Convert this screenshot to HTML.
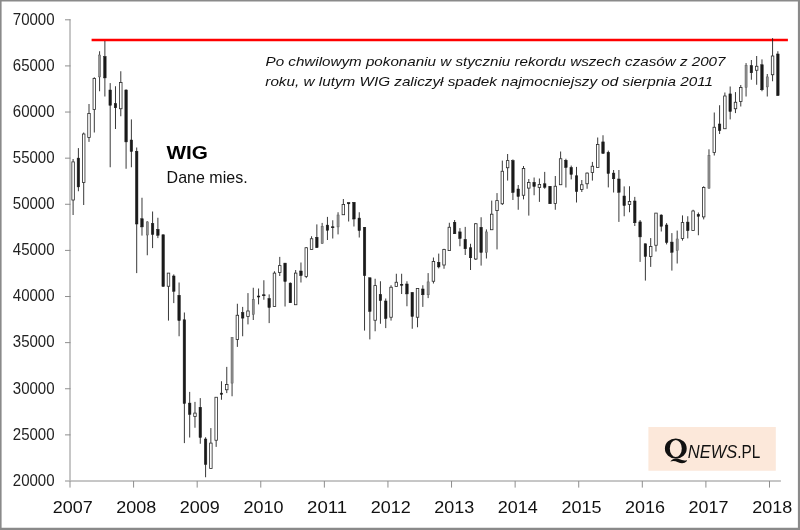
<!DOCTYPE html>
<html><head><meta charset="utf-8"><title>WIG</title>
<style>
html,body{margin:0;padding:0;background:#fff;}
body{width:800px;height:530px;overflow:hidden;}
svg{display:block;will-change:transform;font-family:"Liberation Sans",sans-serif;}
.w{stroke:#222;stroke-width:0.9;}
.k{fill:#1a1a1a;stroke:#1a1a1a;stroke-width:0.5;}
.u{fill:#fff;stroke:#2a2a2a;stroke-width:0.8;}
.g{fill:#909090;stroke:#5a5a5a;stroke-width:0.5;}
.ax{stroke:#8e8e8e;stroke-width:1;fill:none;}
  .yl{font-size:16px;fill:#222;}
.xl{font-size:16.2px;fill:#111;}
.an{font-size:13.5px;font-style:italic;fill:#111;}
</style></head><body>
<svg width="800" height="530" viewBox="0 0 800 530">
<rect x="0" y="0" width="800" height="530" fill="#fff"/>
<path d="M0 0H800V530H0Z M1.6 1.6V527.8H797.9V1.6Z" fill="#8a8a8a" fill-rule="evenodd"/>
<line x1="70" y1="19.3" x2="70" y2="480.5" class="ax"/>
<line x1="65" y1="481" x2="780.9" y2="481" class="ax"/>
<line x1="65" y1="19.80" x2="70.5" y2="19.80" class="ax"/>
<text x="54.6" y="24.55" class="yl" text-anchor="end" textLength="41.8" lengthAdjust="spacingAndGlyphs">70000</text>
<line x1="65" y1="65.92" x2="70.5" y2="65.92" class="ax"/>
<text x="54.6" y="70.67" class="yl" text-anchor="end" textLength="41.8" lengthAdjust="spacingAndGlyphs">65000</text>
<line x1="65" y1="112.04" x2="70.5" y2="112.04" class="ax"/>
<text x="54.6" y="116.79" class="yl" text-anchor="end" textLength="41.8" lengthAdjust="spacingAndGlyphs">60000</text>
<line x1="65" y1="158.16" x2="70.5" y2="158.16" class="ax"/>
<text x="54.6" y="162.91" class="yl" text-anchor="end" textLength="41.8" lengthAdjust="spacingAndGlyphs">55000</text>
<line x1="65" y1="204.28" x2="70.5" y2="204.28" class="ax"/>
<text x="54.6" y="209.03" class="yl" text-anchor="end" textLength="41.8" lengthAdjust="spacingAndGlyphs">50000</text>
<line x1="65" y1="250.40" x2="70.5" y2="250.40" class="ax"/>
<text x="54.6" y="255.15" class="yl" text-anchor="end" textLength="41.8" lengthAdjust="spacingAndGlyphs">45000</text>
<line x1="65" y1="296.52" x2="70.5" y2="296.52" class="ax"/>
<text x="54.6" y="301.27" class="yl" text-anchor="end" textLength="41.8" lengthAdjust="spacingAndGlyphs">40000</text>
<line x1="65" y1="342.64" x2="70.5" y2="342.64" class="ax"/>
<text x="54.6" y="347.39" class="yl" text-anchor="end" textLength="41.8" lengthAdjust="spacingAndGlyphs">35000</text>
<line x1="65" y1="388.76" x2="70.5" y2="388.76" class="ax"/>
<text x="54.6" y="393.51" class="yl" text-anchor="end" textLength="41.8" lengthAdjust="spacingAndGlyphs">30000</text>
<line x1="65" y1="434.88" x2="70.5" y2="434.88" class="ax"/>
<text x="54.6" y="439.63" class="yl" text-anchor="end" textLength="41.8" lengthAdjust="spacingAndGlyphs">25000</text>
<text x="54.6" y="485.75" class="yl" text-anchor="end" textLength="41.8" lengthAdjust="spacingAndGlyphs">20000</text>
<line x1="70.00" y1="481" x2="70.00" y2="487.6" class="ax"/>
<text x="72.70" y="512.7" class="xl" text-anchor="middle" textLength="40" lengthAdjust="spacingAndGlyphs">2007</text>
<line x1="133.59" y1="481" x2="133.59" y2="487.6" class="ax"/>
<text x="136.29" y="512.7" class="xl" text-anchor="middle" textLength="40" lengthAdjust="spacingAndGlyphs">2008</text>
<line x1="197.18" y1="481" x2="197.18" y2="487.6" class="ax"/>
<text x="199.88" y="512.7" class="xl" text-anchor="middle" textLength="40" lengthAdjust="spacingAndGlyphs">2009</text>
<line x1="260.77" y1="481" x2="260.77" y2="487.6" class="ax"/>
<text x="263.47" y="512.7" class="xl" text-anchor="middle" textLength="40" lengthAdjust="spacingAndGlyphs">2010</text>
<line x1="324.36" y1="481" x2="324.36" y2="487.6" class="ax"/>
<text x="327.06" y="512.7" class="xl" text-anchor="middle" textLength="40" lengthAdjust="spacingAndGlyphs">2011</text>
<line x1="387.95" y1="481" x2="387.95" y2="487.6" class="ax"/>
<text x="390.65" y="512.7" class="xl" text-anchor="middle" textLength="40" lengthAdjust="spacingAndGlyphs">2012</text>
<line x1="451.54" y1="481" x2="451.54" y2="487.6" class="ax"/>
<text x="454.24" y="512.7" class="xl" text-anchor="middle" textLength="40" lengthAdjust="spacingAndGlyphs">2013</text>
<line x1="515.13" y1="481" x2="515.13" y2="487.6" class="ax"/>
<text x="517.83" y="512.7" class="xl" text-anchor="middle" textLength="40" lengthAdjust="spacingAndGlyphs">2014</text>
<line x1="578.72" y1="481" x2="578.72" y2="487.6" class="ax"/>
<text x="581.42" y="512.7" class="xl" text-anchor="middle" textLength="40" lengthAdjust="spacingAndGlyphs">2015</text>
<line x1="642.31" y1="481" x2="642.31" y2="487.6" class="ax"/>
<text x="645.01" y="512.7" class="xl" text-anchor="middle" textLength="40" lengthAdjust="spacingAndGlyphs">2016</text>
<line x1="705.90" y1="481" x2="705.90" y2="487.6" class="ax"/>
<text x="708.60" y="512.7" class="xl" text-anchor="middle" textLength="40" lengthAdjust="spacingAndGlyphs">2017</text>
<line x1="769.49" y1="481" x2="769.49" y2="487.6" class="ax"/>
<text x="772.19" y="512.7" class="xl" text-anchor="middle" textLength="40" lengthAdjust="spacingAndGlyphs">2018</text>
<rect x="648.4" y="427" width="127.4" height="43.75" fill="#fce8da"/>
<path fill="#111" fill-rule="evenodd" d="M664.9 448.5a10.9 10.1 0 1 0 21.8 0a10.9 10.1 0 1 0 -21.8 0Z M669.8 448.5a6 8.6 0 1 1 12 0a6 8.6 0 1 1 -12 0Z"/>
<path fill="#111" d="M670.3 461.5C672.3 458.8 675.8 457.8 679 459.0C682 460.1 684.6 461.2 686.9 459.9L686.7 461.3C684.6 463.6 681 463.6 678 462.2C675.4 461.0 673 460.5 670.3 461.5Z"/>
<text x="687.8" y="458.0" style="font-size:18px;font-style:italic;fill:#111" textLength="49.3" lengthAdjust="spacingAndGlyphs">NEWS</text>
<text x="737.3" y="458.0" style="font-size:18px;fill:#111" textLength="23" lengthAdjust="spacingAndGlyphs">.PL</text>
<line x1="91.6" y1="40" x2="787.9" y2="40" stroke="#f00" stroke-width="2.5"/>
<line x1="73.10" y1="159.00" x2="73.10" y2="215.00" class="w"/>
<rect x="71.85" y="161.90" width="2.5" height="38.10" class="u"/>
<line x1="78.40" y1="148.10" x2="78.40" y2="191.25" class="w"/>
<rect x="77.15" y="158.10" width="2.5" height="28.80" class="k"/>
<line x1="83.70" y1="132.50" x2="83.70" y2="205.00" class="w"/>
<rect x="82.45" y="134.00" width="2.5" height="48.50" class="u"/>
<line x1="89.00" y1="104.00" x2="89.00" y2="141.90" class="w"/>
<rect x="87.75" y="113.50" width="2.5" height="24.00" class="u"/>
<line x1="94.30" y1="77.25" x2="94.30" y2="132.50" class="w"/>
<rect x="93.05" y="78.50" width="2.5" height="30.90" class="u"/>
<line x1="99.59" y1="51.25" x2="99.59" y2="91.25" class="w"/>
<rect x="98.55" y="55.00" width="2.1" height="21.90" class="g"/>
<line x1="104.89" y1="41.00" x2="104.89" y2="96.50" class="w"/>
<rect x="103.64" y="56.50" width="2.5" height="21.40" class="k"/>
<line x1="110.19" y1="83.10" x2="110.19" y2="167.25" class="w"/>
<rect x="108.94" y="90.00" width="2.5" height="15.25" class="k"/>
<line x1="115.49" y1="86.25" x2="115.49" y2="129.00" class="w"/>
<rect x="114.24" y="103.50" width="2.5" height="4.25" class="k"/>
<line x1="120.79" y1="71.25" x2="120.79" y2="116.25" class="w"/>
<rect x="119.54" y="82.50" width="2.5" height="26.25" class="u"/>
<line x1="126.09" y1="89.40" x2="126.09" y2="168.75" class="w"/>
<rect x="124.84" y="90.00" width="2.5" height="51.90" class="k"/>
<line x1="131.39" y1="119.40" x2="131.39" y2="167.25" class="w"/>
<rect x="130.14" y="140.00" width="2.5" height="11.50" class="k"/>
<line x1="136.69" y1="147.50" x2="136.69" y2="273.10" class="w"/>
<rect x="135.44" y="151.25" width="2.5" height="72.75" class="k"/>
<line x1="141.99" y1="197.75" x2="141.99" y2="235.60" class="w"/>
<rect x="140.74" y="218.75" width="2.5" height="8.15" class="k"/>
<line x1="147.29" y1="221.25" x2="147.29" y2="255.25" class="w"/>
<rect x="146.24" y="221.90" width="2.1" height="13.10" class="g"/>
<line x1="152.58" y1="211.50" x2="152.58" y2="248.10" class="w"/>
<rect x="151.33" y="223.50" width="2.5" height="10.90" class="k"/>
<line x1="157.88" y1="217.75" x2="157.88" y2="238.10" class="w"/>
<rect x="156.63" y="229.40" width="2.5" height="5.85" class="k"/>
<line x1="163.18" y1="234.75" x2="163.18" y2="286.50" class="w"/>
<rect x="161.93" y="234.75" width="2.5" height="51.75" class="k"/>
<line x1="168.48" y1="273.10" x2="168.48" y2="320.60" class="w"/>
<rect x="167.23" y="273.10" width="2.5" height="13.15" class="u"/>
<line x1="173.78" y1="274.40" x2="173.78" y2="303.10" class="w"/>
<rect x="172.53" y="276.00" width="2.5" height="15.25" class="k"/>
<line x1="179.08" y1="282.50" x2="179.08" y2="336.25" class="w"/>
<rect x="177.83" y="295.25" width="2.5" height="25.35" class="k"/>
<line x1="184.38" y1="312.50" x2="184.38" y2="443.10" class="w"/>
<rect x="183.13" y="319.75" width="2.5" height="83.75" class="k"/>
<line x1="189.68" y1="391.90" x2="189.68" y2="437.50" class="w"/>
<rect x="188.43" y="403.10" width="2.5" height="11.30" class="k"/>
<line x1="194.98" y1="401.90" x2="194.98" y2="427.75" class="w"/>
<rect x="193.73" y="413.10" width="2.5" height="3.40" class="u"/>
<line x1="200.28" y1="398.10" x2="200.28" y2="443.75" class="w"/>
<rect x="199.03" y="407.25" width="2.5" height="30.25" class="k"/>
<line x1="205.58" y1="437.25" x2="205.58" y2="477.25" class="w"/>
<rect x="204.33" y="439.00" width="2.5" height="25.40" class="k"/>
<line x1="210.87" y1="428.10" x2="210.87" y2="468.50" class="w"/>
<rect x="209.62" y="443.10" width="2.5" height="25.40" class="u"/>
<line x1="216.17" y1="397.25" x2="216.17" y2="446.90" class="w"/>
<rect x="214.92" y="397.25" width="2.5" height="43.00" class="u"/>
<line x1="221.47" y1="381.25" x2="221.47" y2="399.75" class="w"/>
<rect x="220.22" y="393.10" width="2.5" height="1.30" class="k"/>
<line x1="226.77" y1="366.90" x2="226.77" y2="393.10" class="w"/>
<rect x="225.52" y="384.40" width="2.5" height="5.35" class="u"/>
<line x1="232.07" y1="337.50" x2="232.07" y2="396.25" class="w"/>
<rect x="231.02" y="337.50" width="2.1" height="45.60" class="g"/>
<line x1="237.37" y1="303.75" x2="237.37" y2="346.90" class="w"/>
<rect x="236.12" y="315.25" width="2.5" height="24.15" class="u"/>
<line x1="242.67" y1="306.90" x2="242.67" y2="336.25" class="w"/>
<rect x="241.42" y="312.50" width="2.5" height="5.60" class="k"/>
<line x1="247.97" y1="293.10" x2="247.97" y2="324.40" class="w"/>
<rect x="246.72" y="311.00" width="2.5" height="5.50" class="u"/>
<line x1="253.27" y1="287.75" x2="253.27" y2="320.00" class="w"/>
<rect x="252.22" y="299.40" width="2.1" height="15.00" class="g"/>
<line x1="258.56" y1="288.50" x2="258.56" y2="304.40" class="w"/>
<rect x="257.31" y="296.00" width="2.5" height="1.00" class="k"/>
<line x1="263.86" y1="280.25" x2="263.86" y2="299.75" class="w"/>
<rect x="262.61" y="294.75" width="2.5" height="1.00" class="k"/>
<line x1="269.16" y1="294.40" x2="269.16" y2="323.10" class="w"/>
<rect x="267.91" y="298.50" width="2.5" height="9.00" class="k"/>
<line x1="274.46" y1="271.25" x2="274.46" y2="306.50" class="w"/>
<rect x="273.21" y="273.10" width="2.5" height="33.40" class="u"/>
<line x1="279.76" y1="256.90" x2="279.76" y2="276.00" class="w"/>
<rect x="278.51" y="265.60" width="2.5" height="6.90" class="u"/>
<line x1="285.06" y1="263.10" x2="285.06" y2="306.50" class="w"/>
<rect x="283.81" y="263.10" width="2.5" height="18.40" class="k"/>
<line x1="290.36" y1="282.50" x2="290.36" y2="302.75" class="w"/>
<rect x="289.11" y="283.10" width="2.5" height="19.65" class="k"/>
<line x1="295.66" y1="270.00" x2="295.66" y2="304.75" class="w"/>
<rect x="294.41" y="273.10" width="2.5" height="31.65" class="u"/>
<line x1="300.96" y1="262.50" x2="300.96" y2="282.50" class="w"/>
<rect x="299.71" y="271.00" width="2.5" height="4.60" class="k"/>
<line x1="306.26" y1="247.00" x2="306.26" y2="278.10" class="w"/>
<rect x="305.01" y="247.75" width="2.5" height="28.75" class="u"/>
<line x1="311.56" y1="236.25" x2="311.56" y2="249.40" class="w"/>
<rect x="310.31" y="238.75" width="2.5" height="10.65" class="u"/>
<line x1="316.85" y1="224.40" x2="316.85" y2="248.00" class="w"/>
<rect x="315.60" y="237.25" width="2.5" height="10.35" class="k"/>
<line x1="322.15" y1="222.90" x2="322.15" y2="243.75" class="w"/>
<rect x="321.10" y="226.40" width="2.1" height="17.20" class="g"/>
<line x1="327.45" y1="216.90" x2="327.45" y2="240.00" class="w"/>
<rect x="326.20" y="225.10" width="2.5" height="5.15" class="k"/>
<line x1="332.75" y1="220.25" x2="332.75" y2="238.50" class="w"/>
<rect x="331.50" y="226.75" width="2.5" height="1.00" class="k"/>
<line x1="338.05" y1="212.25" x2="338.05" y2="234.40" class="w"/>
<rect x="337.00" y="215.00" width="2.1" height="11.90" class="g"/>
<line x1="343.35" y1="199.00" x2="343.35" y2="214.75" class="w"/>
<rect x="342.10" y="204.40" width="2.5" height="10.35" class="u"/>
<line x1="348.65" y1="202.50" x2="348.65" y2="221.50" class="w"/>
<rect x="347.40" y="202.60" width="2.5" height="1.20" class="k"/>
<line x1="353.95" y1="202.25" x2="353.95" y2="226.50" class="w"/>
<rect x="352.70" y="202.25" width="2.5" height="16.75" class="k"/>
<line x1="359.25" y1="212.25" x2="359.25" y2="237.50" class="w"/>
<rect x="358.00" y="218.10" width="2.5" height="12.50" class="k"/>
<line x1="364.54" y1="227.25" x2="364.54" y2="330.60" class="w"/>
<rect x="363.29" y="227.25" width="2.5" height="48.35" class="k"/>
<line x1="369.84" y1="277.75" x2="369.84" y2="339.40" class="w"/>
<rect x="368.59" y="277.75" width="2.5" height="33.65" class="k"/>
<line x1="375.14" y1="278.75" x2="375.14" y2="331.25" class="w"/>
<rect x="373.89" y="285.60" width="2.5" height="34.65" class="u"/>
<line x1="380.44" y1="281.25" x2="380.44" y2="323.75" class="w"/>
<rect x="379.19" y="294.40" width="2.5" height="6.20" class="k"/>
<line x1="385.74" y1="298.50" x2="385.74" y2="328.10" class="w"/>
<rect x="384.49" y="301.00" width="2.5" height="17.50" class="k"/>
<line x1="391.04" y1="285.25" x2="391.04" y2="320.60" class="w"/>
<rect x="389.79" y="287.25" width="2.5" height="30.00" class="u"/>
<line x1="396.34" y1="273.75" x2="396.34" y2="286.50" class="w"/>
<rect x="395.09" y="282.25" width="2.5" height="4.25" class="u"/>
<line x1="401.64" y1="273.75" x2="401.64" y2="294.00" class="w"/>
<rect x="400.39" y="284.25" width="2.5" height="1.00" class="k"/>
<line x1="406.94" y1="281.25" x2="406.94" y2="306.25" class="w"/>
<rect x="405.69" y="284.00" width="2.5" height="9.90" class="k"/>
<line x1="412.24" y1="292.25" x2="412.24" y2="328.75" class="w"/>
<rect x="410.99" y="292.40" width="2.5" height="24.10" class="k"/>
<line x1="417.53" y1="288.50" x2="417.53" y2="327.25" class="w"/>
<rect x="416.28" y="288.50" width="2.5" height="28.75" class="u"/>
<line x1="422.83" y1="285.25" x2="422.83" y2="306.90" class="w"/>
<rect x="421.58" y="289.00" width="2.5" height="5.75" class="k"/>
<line x1="428.13" y1="273.10" x2="428.13" y2="298.10" class="w"/>
<rect x="427.08" y="281.90" width="2.1" height="12.85" class="g"/>
<line x1="433.43" y1="257.50" x2="433.43" y2="283.50" class="w"/>
<rect x="432.18" y="261.50" width="2.5" height="19.75" class="u"/>
<line x1="438.73" y1="253.60" x2="438.73" y2="268.40" class="w"/>
<rect x="437.48" y="262.25" width="2.5" height="4.65" class="k"/>
<line x1="444.03" y1="248.75" x2="444.03" y2="268.75" class="w"/>
<rect x="442.78" y="249.40" width="2.5" height="15.60" class="u"/>
<line x1="449.33" y1="222.75" x2="449.33" y2="250.60" class="w"/>
<rect x="448.08" y="227.25" width="2.5" height="23.35" class="u"/>
<line x1="454.63" y1="220.00" x2="454.63" y2="233.75" class="w"/>
<rect x="453.38" y="222.25" width="2.5" height="11.50" class="k"/>
<line x1="459.93" y1="228.10" x2="459.93" y2="246.25" class="w"/>
<rect x="458.68" y="231.90" width="2.5" height="6.60" class="k"/>
<line x1="465.23" y1="226.90" x2="465.23" y2="255.00" class="w"/>
<rect x="463.98" y="239.40" width="2.5" height="9.35" class="k"/>
<line x1="470.52" y1="243.75" x2="470.52" y2="270.00" class="w"/>
<rect x="469.27" y="247.75" width="2.5" height="10.00" class="k"/>
<line x1="475.82" y1="223.00" x2="475.82" y2="260.00" class="w"/>
<rect x="474.57" y="223.75" width="2.5" height="35.25" class="u"/>
<line x1="481.12" y1="217.25" x2="481.12" y2="265.60" class="w"/>
<rect x="479.87" y="227.25" width="2.5" height="25.25" class="k"/>
<line x1="486.42" y1="229.40" x2="486.42" y2="258.50" class="w"/>
<rect x="485.37" y="231.90" width="2.1" height="20.35" class="g"/>
<line x1="491.72" y1="200.60" x2="491.72" y2="229.75" class="w"/>
<rect x="490.47" y="214.20" width="2.5" height="15.55" class="u"/>
<line x1="497.02" y1="193.10" x2="497.02" y2="249.40" class="w"/>
<rect x="495.77" y="200.60" width="2.5" height="10.00" class="u"/>
<line x1="502.32" y1="160.60" x2="502.32" y2="205.00" class="w"/>
<rect x="501.07" y="171.25" width="2.5" height="32.50" class="u"/>
<line x1="507.62" y1="154.00" x2="507.62" y2="180.60" class="w"/>
<rect x="506.37" y="160.60" width="2.5" height="7.15" class="u"/>
<line x1="512.92" y1="159.40" x2="512.92" y2="200.00" class="w"/>
<rect x="511.67" y="160.60" width="2.5" height="31.90" class="k"/>
<line x1="518.22" y1="185.00" x2="518.22" y2="209.75" class="w"/>
<rect x="516.97" y="189.00" width="2.5" height="7.50" class="k"/>
<line x1="523.51" y1="166.00" x2="523.51" y2="199.40" class="w"/>
<rect x="522.26" y="168.50" width="2.5" height="26.75" class="u"/>
<line x1="528.81" y1="179.00" x2="528.81" y2="215.60" class="w"/>
<rect x="527.56" y="182.50" width="2.5" height="5.60" class="u"/>
<line x1="534.11" y1="177.50" x2="534.11" y2="195.25" class="w"/>
<rect x="532.86" y="182.25" width="2.5" height="4.25" class="k"/>
<line x1="539.41" y1="178.50" x2="539.41" y2="201.90" class="w"/>
<rect x="538.16" y="184.40" width="2.5" height="3.10" class="u"/>
<line x1="544.71" y1="171.90" x2="544.71" y2="188.75" class="w"/>
<rect x="543.46" y="183.75" width="2.5" height="3.50" class="k"/>
<line x1="550.01" y1="186.00" x2="550.01" y2="204.00" class="w"/>
<rect x="548.76" y="186.25" width="2.5" height="17.50" class="k"/>
<line x1="555.31" y1="176.00" x2="555.31" y2="209.75" class="w"/>
<rect x="554.06" y="186.25" width="2.5" height="17.25" class="u"/>
<line x1="560.61" y1="151.50" x2="560.61" y2="184.75" class="w"/>
<rect x="559.36" y="158.75" width="2.5" height="26.00" class="u"/>
<line x1="565.91" y1="158.75" x2="565.91" y2="187.50" class="w"/>
<rect x="564.66" y="160.25" width="2.5" height="7.25" class="k"/>
<line x1="571.21" y1="165.60" x2="571.21" y2="179.40" class="w"/>
<rect x="569.96" y="167.50" width="2.5" height="6.90" class="k"/>
<line x1="576.50" y1="166.90" x2="576.50" y2="202.50" class="w"/>
<rect x="575.25" y="175.80" width="2.5" height="15.70" class="k"/>
<line x1="581.80" y1="180.00" x2="581.80" y2="192.00" class="w"/>
<rect x="580.55" y="184.75" width="2.5" height="4.65" class="u"/>
<line x1="587.10" y1="172.50" x2="587.10" y2="188.75" class="w"/>
<rect x="585.85" y="173.10" width="2.5" height="10.65" class="u"/>
<line x1="592.40" y1="161.90" x2="592.40" y2="180.60" class="w"/>
<rect x="591.15" y="166.25" width="2.5" height="6.25" class="u"/>
<line x1="597.70" y1="137.50" x2="597.70" y2="167.50" class="w"/>
<rect x="596.45" y="144.40" width="2.5" height="23.10" class="u"/>
<line x1="603.00" y1="135.25" x2="603.00" y2="153.50" class="w"/>
<rect x="601.75" y="141.90" width="2.5" height="11.60" class="k"/>
<line x1="608.30" y1="150.60" x2="608.30" y2="187.40" class="w"/>
<rect x="607.05" y="152.25" width="2.5" height="21.25" class="k"/>
<line x1="613.60" y1="170.00" x2="613.60" y2="192.50" class="w"/>
<rect x="612.35" y="173.10" width="2.5" height="5.65" class="k"/>
<line x1="618.90" y1="170.00" x2="618.90" y2="221.90" class="w"/>
<rect x="617.65" y="179.00" width="2.5" height="13.25" class="k"/>
<line x1="624.20" y1="186.40" x2="624.20" y2="216.25" class="w"/>
<rect x="622.95" y="196.00" width="2.5" height="9.60" class="k"/>
<line x1="629.50" y1="186.25" x2="629.50" y2="212.25" class="w"/>
<rect x="628.25" y="201.50" width="2.5" height="2.90" class="u"/>
<line x1="634.79" y1="196.90" x2="634.79" y2="226.00" class="w"/>
<rect x="633.54" y="201.00" width="2.5" height="21.75" class="k"/>
<line x1="640.09" y1="220.00" x2="640.09" y2="261.90" class="w"/>
<rect x="638.84" y="221.90" width="2.5" height="15.00" class="k"/>
<line x1="645.39" y1="243.75" x2="645.39" y2="280.60" class="w"/>
<rect x="644.14" y="243.75" width="2.5" height="12.75" class="k"/>
<line x1="650.69" y1="238.10" x2="650.69" y2="266.90" class="w"/>
<rect x="649.44" y="246.50" width="2.5" height="10.00" class="u"/>
<line x1="655.99" y1="213.10" x2="655.99" y2="251.50" class="w"/>
<rect x="654.74" y="213.10" width="2.5" height="32.15" class="u"/>
<line x1="661.29" y1="214.40" x2="661.29" y2="231.50" class="w"/>
<rect x="660.04" y="215.00" width="2.5" height="11.25" class="k"/>
<line x1="666.59" y1="223.10" x2="666.59" y2="244.40" class="w"/>
<rect x="665.34" y="225.00" width="2.5" height="17.40" class="k"/>
<line x1="671.89" y1="233.10" x2="671.89" y2="270.60" class="w"/>
<rect x="670.64" y="242.10" width="2.5" height="10.15" class="k"/>
<line x1="677.19" y1="230.60" x2="677.19" y2="263.50" class="w"/>
<rect x="676.14" y="239.00" width="2.1" height="11.60" class="g"/>
<line x1="682.49" y1="215.40" x2="682.49" y2="240.60" class="w"/>
<rect x="681.24" y="222.60" width="2.5" height="15.90" class="u"/>
<line x1="687.78" y1="216.25" x2="687.78" y2="238.40" class="w"/>
<rect x="686.53" y="222.10" width="2.5" height="8.60" class="k"/>
<line x1="693.08" y1="209.75" x2="693.08" y2="230.60" class="w"/>
<rect x="691.83" y="211.00" width="2.5" height="19.40" class="u"/>
<line x1="698.38" y1="212.50" x2="698.38" y2="235.25" class="w"/>
<rect x="697.13" y="214.40" width="2.5" height="1.85" class="k"/>
<line x1="703.68" y1="186.25" x2="703.68" y2="219.40" class="w"/>
<rect x="702.43" y="187.50" width="2.5" height="29.40" class="u"/>
<line x1="708.98" y1="149.30" x2="708.98" y2="188.50" class="w"/>
<rect x="707.93" y="155.50" width="2.1" height="32.70" class="g"/>
<line x1="714.28" y1="112.50" x2="714.28" y2="155.50" class="w"/>
<rect x="713.03" y="127.25" width="2.5" height="25.25" class="u"/>
<line x1="719.58" y1="105.25" x2="719.58" y2="134.00" class="w"/>
<rect x="718.33" y="124.00" width="2.5" height="6.60" class="k"/>
<line x1="724.88" y1="92.50" x2="724.88" y2="128.75" class="w"/>
<rect x="723.63" y="96.00" width="2.5" height="32.75" class="u"/>
<line x1="730.18" y1="86.50" x2="730.18" y2="119.40" class="w"/>
<rect x="728.93" y="93.90" width="2.5" height="17.60" class="k"/>
<line x1="735.48" y1="92.10" x2="735.48" y2="113.10" class="w"/>
<rect x="734.23" y="102.25" width="2.5" height="6.50" class="u"/>
<line x1="740.77" y1="85.00" x2="740.77" y2="106.50" class="w"/>
<rect x="739.52" y="87.50" width="2.5" height="14.00" class="u"/>
<line x1="746.07" y1="63.10" x2="746.07" y2="96.50" class="w"/>
<rect x="745.02" y="65.60" width="2.1" height="21.65" class="g"/>
<line x1="751.37" y1="60.00" x2="751.37" y2="79.75" class="w"/>
<rect x="750.12" y="65.60" width="2.5" height="7.15" class="k"/>
<line x1="756.67" y1="56.00" x2="756.67" y2="84.75" class="w"/>
<rect x="755.42" y="66.25" width="2.5" height="4.00" class="u"/>
<line x1="761.97" y1="59.40" x2="761.97" y2="91.25" class="w"/>
<rect x="760.72" y="64.75" width="2.5" height="25.00" class="k"/>
<line x1="767.27" y1="74.00" x2="767.27" y2="96.50" class="w"/>
<rect x="766.22" y="76.90" width="2.1" height="10.00" class="g"/>
<line x1="772.57" y1="38.10" x2="772.57" y2="81.25" class="w"/>
<rect x="771.32" y="56.00" width="2.5" height="18.75" class="u"/>
<line x1="777.87" y1="51.25" x2="777.87" y2="95.60" class="w"/>
<rect x="776.62" y="54.00" width="2.5" height="41.60" class="k"/>
<text x="166.4" y="158.5" style="font-size:19px;font-weight:bold;fill:#000" textLength="41.4" lengthAdjust="spacingAndGlyphs">WIG</text>
<text x="166.6" y="182.5" style="font-size:16.2px;fill:#111" textLength="81" lengthAdjust="spacingAndGlyphs">Dane mies.</text>
<text x="265.5" y="66.0" class="an" textLength="460" lengthAdjust="spacingAndGlyphs">Po chwilowym pokonaniu w styczniu rekordu wszech czasów z 2007</text>
<text x="265.3" y="86.05" class="an" textLength="447.8" lengthAdjust="spacingAndGlyphs">roku, w lutym WIG zaliczył spadek najmocniejszy od sierpnia 2011</text>
</svg>
</body></html>
